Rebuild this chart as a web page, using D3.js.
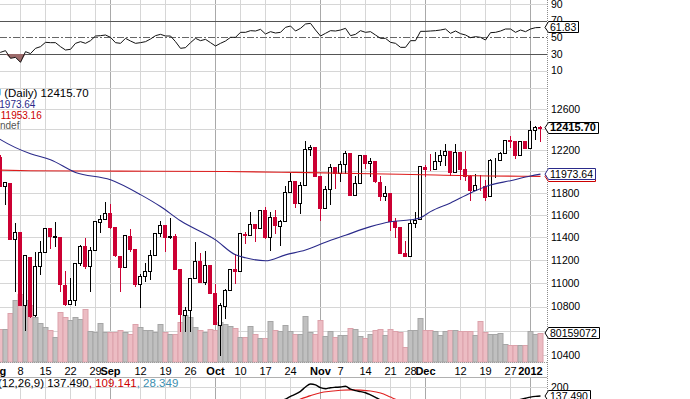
<!DOCTYPE html>
<html><head><meta charset="utf-8">
<script src="https://cdn.jsdelivr.net/npm/d3@7"></script>
<style>
body{margin:0;background:#fff;}
svg{display:block;font-family:"Liberation Sans",Arial,sans-serif;}
</style></head><body><div id="chart"></div>
<script>
// trading days, Aug 1 2011 .. Jan 5 2012
const dates = ("08-01 08-02 08-03 08-04 08-05 08-08 08-09 08-10 08-11 08-12 08-15 08-16 08-17 08-18 08-19 08-22 08-23 08-24 08-25 08-26 08-29 08-30 08-31 " +
  "09-01 09-02 09-06 09-07 09-08 09-09 09-12 09-13 09-14 09-15 09-16 09-19 09-20 09-21 09-22 09-23 09-26 09-27 09-28 09-29 09-30 " +
  "10-03 10-04 10-05 10-06 10-07 10-10 10-11 10-12 10-13 10-14 10-17 10-18 10-19 10-20 10-21 10-24 10-25 10-26 10-27 10-28 10-31 " +
  "11-01 11-02 11-03 11-04 11-07 11-08 11-09 11-10 11-11 11-14 11-15 11-16 11-17 11-18 11-21 11-22 11-23 11-25 11-28 11-29 11-30 " +
  "12-01 12-02 12-05 12-06 12-07 12-08 12-09 12-12 12-13 12-14 12-15 12-16 12-19 12-20 12-21 12-22 12-23 12-27 12-28 12-29 12-30 " +
  "01-03 01-04 01-05").split(" ");

// open, high, low, close
const ohlc = [
  [12144,12281,11925,12132],[12130,12150,11862,11867],[11866,11904,11700,11897],[11894,11894,11383,11384],[11383,11524,10933,11445],
  [11444,11444,10809,10810],[10810,11244,10604,11239],[11228,11228,10711,10720],[10729,11270,10719,11143],[11143,11362,11076,11270],
  [11269,11483,11269,11482],[11481,11481,11300,11406],[11405,11535,11320,11411],[11405,11405,10929,10991],[10986,11100,10815,10818],
  [10822,11045,10821,10855],[10854,11177,10813,11177],[11176,11327,11155,11321],[11319,11390,11127,11150],[11148,11310,10929,11285],
  [11287,11540,11287,11540],[11538,11600,11450,11560],[11560,11716,11560,11614],[11613,11698,11483,11494],[11492,11492,11231,11240],
  [11237,11237,10932,11139],[11140,11420,11140,11415],[11414,11474,11276,11296],[11294,11294,10976,10993],[10990,11077,10800,11062],
  [11061,11175,11017,11106],[11105,11290,11036,11247],[11246,11434,11246,11433],[11433,11545,11406,11510],[11508,11508,11275,11401],
  [11402,11568,11395,11408],[11407,11427,11120,11125],[11124,11124,10597,10734],[10733,10798,10597,10771],[10771,11045,10600,11044],
  [11045,11353,11045,11191],[11190,11260,11010,11011],[11011,11274,10995,11154],[11153,11153,10913,10913],[10912,10990,10655,10655],
  [10650,10827,10404,10809],[10806,10951,10700,10940],[10939,11124,10939,11124],[11123,11250,11000,11103],[11104,11433,11104,11433],
  [11432,11450,11347,11417],[11416,11628,11416,11519],[11518,11518,11370,11479],[11479,11644,11479,11644],[11644,11673,11390,11397],
  [11397,11630,11290,11578],[11577,11640,11440,11505],[11504,11554,11333,11542],[11543,11868,11543,11809],[11808,11981,11808,11913],
  [11912,11912,11667,11706],[11707,11900,11616,11869],[11870,12284,11870,12209],[12208,12251,12154,12232],[12231,12231,11955,11955],
  [11955,11955,11556,11658],[11659,11866,11659,11836],[11837,12072,11697,12045],[12044,12044,11843,11983],[11983,12094,11906,12069],
  [12068,12187,11985,12170],[12169,12169,11781,11781],[11782,11960,11778,11894],[11895,12158,11895,12154],[12153,12153,12027,12079],
  [12078,12125,11952,12096],[12095,12095,11900,11906],[11905,11960,11734,11771],[11771,11867,11735,11796],[11795,11795,11468,11548],
  [11547,11573,11398,11494],[11493,11493,11258,11258],[11257,11363,11231,11231],[11231,11555,11231,11524],[11523,11626,11488,11556],
  [11559,12046,11559,12046],[12045,12058,11952,12020],[12020,12162,12013,12019],[12019,12186,12019,12097],[12097,12199,12061,12150],
  [12149,12258,12061,12196],[12195,12195,11966,11997],[11997,12261,11997,12184],[12183,12183,11930,12021],[12021,12190,11918,11955],
  [11954,11965,11735,11824],[11825,11979,11825,11869],[11868,11968,11825,11866],[11866,11917,11735,11766],[11769,12112,11769,12103],
  [12103,12127,11944,12107],[12106,12179,12106,12169],[12169,12294,12169,12294],[12292,12331,12231,12291],[12290,12290,12128,12151],
  [12151,12288,12151,12288],[12287,12288,12217,12218],[12221,12479,12221,12397],[12392,12430,12308,12418],[12418,12430,12283,12415.70]
];

// volume, millions of shares
const volumes = [91,91,91,135,171,188,171,158,124,108, 97,88,69,138,124,116,124,119,146,86, 83,108,83,83,83,88,83,77,105,97,
  88,88,83,105,83,77,77,111,130,124, 97,88,83,91,88,111,105,100,94,69, 69,100,77,66,66,113,88,86,102,86,
  77,77,127,83,77,116,72,86,69,75, 75,94,91,72,66,77,88,91,75,91, 86,83,41,88,88,122,88,88,86,75,
  86,88,88,86,86,86,75,113,83,77, 77,80,50,47,47,47,47,86,77,80.159072];

// RSI(14)
const rsi = [36, 32.0,34.0,24.8,26.0,20.0,32.8,30.5,36.8,38.8,44.0, 43.6,43.6,38.8,34.8,35.6,42.8,44.8,42.8,46.0,51.6,
  52.0,52.8,50.0,43.6,42.8,48.8,45.6,42.8,43.6,44.8, 48.0,52.0,53.6,51.6,51.6,44.8,36.8,37.6,43.6,48.8,
  46.0,47.6,43.6,39.6,42.8,45.6,50.0,50.0,56.0,56.0, 58.0,57.6,59.6,54.0,56.8,55.2,56.0,62.0,63.6,57.6,
  60.8,66.0,66.8,58.8,51.6,54.8,58.0,57.6,58.8,60.8, 52.0,53.6,58.0,56.0,56.8,52.8,48.8,48.8,44.0,42.8,
  38.0,38.0,46.0,46.0,57.2,57.2,57.6,58.0,58.8,60.0, 54.8,57.6,54.4,52.8,49.6,50.8,50.0,46.8,55.6,56.0,
  57.6,60.0,60.0,56.0,58.8,56.8,60.0,61.6,61.83];

const ma50 = [["08-01",12330],["08-02",12300],["08-10",12165],["08-16",12109],["08-23",11990],["09-01",11921],["09-12",11784],
  ["09-16",11675],["09-22",11546],["10-03",11376],["10-07",11244],["10-11",11218],["10-17",11192],["10-21",11244],["10-27",11286],
  ["11-02",11355],["11-08",11417],["11-15",11494],["11-21",11537],["11-28",11555],["11-30",11573],["12-02",11629],["12-08",11708],
  ["12-14",11800],["12-20",11873],["12-27",11913],["01-03",11956],["01-05",11973.64]];
const ma200 = [["08-01",12012],["08-10",12006],["08-25",12003],["09-15",12001],["10-05",11998],["10-25",11990],["11-15",11978],
  ["12-05",11965],["12-20",11957],["01-05",11953.16]];

const macd = [["10-05",-20],["10-12",40],["10-17",80],["10-19",100],["10-21",116],["10-24",135],["10-25",150],["10-26",170],
  ["10-27",200],["10-28",221],["10-31",215],["11-01",195],["11-02",188],["11-03",195],["11-04",198],["11-07",200],["11-08",205],
  ["11-09",185],["11-10",175],["11-11",168],["11-14",160],["11-15",145],["11-16",128],["11-17",110],["11-18",95],["11-23",40],
  ["12-01",30],["12-08",60],["12-15",50],["12-22",80],["12-28",105],["12-30",122],["01-03",130],["01-04",135],["01-05",137.49]];
const signal = [["10-05",20],["10-18",60],["10-24",90],["10-26",116],["10-28",140],["11-01",160],["11-03",170],["11-07",177],
  ["11-09",180],["11-11",178],["11-15",172],["11-17",158],["11-21",130],["11-22",115],["11-23",105],["11-28",90],["12-01",75],
  ["12-08",55],["12-15",55],["12-22",65],["12-30",95],["01-05",109.141]];

const xTicks = [["08-01","Aug",1],["08-08","8"],["08-15","15"],["08-22","22"],["08-29","29"],["09-01","Sep",1],["09-12","12"],
  ["09-19","19"],["09-26","26"],["10-03","Oct",1],["10-10","10"],["10-17","17"],["10-24","24"],["11-01","Nov",1],["11-07","7"],
  ["11-14","14"],["11-21","21"],["11-28","28"],["12-01","Dec",1],["12-12","12"],["12-19","19"],["12-27","27"],["01-03","2012",1]];
const priceTicks = [10400,10600,10800,11000,11200,11400,11600,11800,12000,12200,12400,12600,12800];
const rsiTicks = [90,70,50,30,10];
const macdTicks = [200];

const W = 690, H = 399, right = 547;
const rsiBottom = 79, mainBottom = 363, macdTop = 377;

const svg = d3.select('#chart').append('svg').attr('width', W).attr('height', H);
svg.append('rect').attr('width', W).attr('height', H).attr('fill', '#fff');

const defs = svg.append('defs');
function clip(id, y0, y1) {
  defs.append('clipPath').attr('id', id).append('rect').attr('x', 0).attr('y', y0).attr('width', right).attr('height', y1 - y0);
}
clip('c-rsi', 0, rsiBottom);
clip('c-main', rsiBottom, mainBottom);
clip('c-macd', macdTop, H);

// scales
const x = d3.scalePoint().domain(dates).range([-4.5, 540.5]);
const y = d3.scaleLog().domain([10400, 12600]).range([355, 108.7]);
const yVol = d3.scaleLinear().domain([0, 80.159072]).range([362, 333]);
const yRsi = d3.scaleLinear().domain([0, 100]).range([79, -4.33]);
const yMacd = d3.scaleLinear().domain([0, 200]).range([415.8, 387]);
const crisp = v => Math.round(v) + 0.5;

// vertical grid
const grid = svg.append('g');
xTicks.forEach(t => {
  const gx = crisp(x(t[0]) - 0.5);
  [[0, mainBottom], [macdTop, H]].forEach(r => {
    grid.append('line').attr('x1', gx).attr('x2', gx).attr('y1', r[0]).attr('y2', r[1])
      .attr('stroke', t[2] ? '#a9a9a9' : '#d6d6d6').attr('stroke-width', 1);
  });
});

// horizontal grid, main panel
const main = svg.append('g').attr('clip-path', 'url(#c-main)');
priceTicks.forEach(v => {
  main.append('line').attr('x1', 0).attr('x2', right).attr('y1', crisp(y(v))).attr('y2', crisp(y(v)))
    .attr('stroke', '#d6d6d6');
});

// volume
main.selectAll('rect.vol').data(volumes).enter().append('rect').attr('class', 'vol')
  .attr('x', (d, i) => x(dates[i]) - 2.5)
  .attr('width', 5)
  .attr('y', d => crisp(yVol(d)))
  .attr('height', d => 362 - crisp(yVol(d)))
  .attr('fill', (d, i) => {
    const prev = i ? ohlc[i - 1][3] : ohlc[i][0];
    return ohlc[i][3] < prev ? '#ecbcc3' : '#c0c0c0';
  })
  .attr('stroke', (d, i) => {
    const prev = i ? ohlc[i - 1][3] : ohlc[i][0];
    return ohlc[i][3] < prev ? '#dca2ab' : '#a6a6a6';
  });

// candles
const red = '#cc0033';
const candle = main.selectAll('g.candle').data(ohlc).enter().append('g');
candle.append('line')
  .attr('x1', (d, i) => x(dates[i])).attr('x2', (d, i) => x(dates[i]))
  .attr('y1', d => Math.round(y(d[1]))).attr('y2', d => Math.round(y(d[2])) + 1)
  .attr('stroke', d => d[3] >= d[0] ? '#000' : red);
candle.append('rect')
  .attr('x', (d, i) => x(dates[i]) - 2)
  .attr('width', 3)
  .attr('y', d => crisp(y(Math.max(d[0], d[3]))))
  .attr('height', d => Math.max(0, crisp(y(Math.min(d[0], d[3]))) - crisp(y(Math.max(d[0], d[3])))))
  .attr('fill', d => d[3] >= d[0] ? '#fff' : red)
  .attr('stroke', d => d[3] >= d[0] ? '#000' : red);

// moving averages
const maLine = d3.line().x(d => x(d[0])).y(d => y(d[1])).curve(d3.curveMonotoneX);
main.append('path').attr('d', maLine(ma200)).attr('fill', 'none').attr('stroke', '#dd1c1c').attr('stroke-width', 1.1);
main.append('path').attr('d', maLine(ma50)).attr('fill', 'none').attr('stroke', '#2a2a8a').attr('stroke-width', 1.1);

// RSI panel
const rp = svg.append('g').attr('clip-path', 'url(#c-rsi)');
[90, 10].forEach(v => rp.append('line').attr('x1', 0).attr('x2', right)
  .attr('y1', crisp(yRsi(v))).attr('y2', crisp(yRsi(v))).attr('stroke', '#d6d6d6'));
[70, 30].forEach(v => rp.append('line').attr('x1', 0).attr('x2', right)
  .attr('y1', crisp(yRsi(v))).attr('y2', crisp(yRsi(v))).attr('stroke', '#555'));
rp.append('line').attr('x1', 0).attr('x2', right).attr('y1', crisp(yRsi(50))).attr('y2', crisp(yRsi(50)))
  .attr('stroke', '#666').attr('stroke-dasharray', '7,2,2,2');
rp.append('path')
  .attr('d', d3.area().x((d, i) => x(dates[i])).y0(yRsi(30)).y1(d => yRsi(Math.min(d, 30)))(rsi))
  .attr('fill', '#9c6a6a');
rp.append('path')
  .attr('d', d3.line().x((d, i) => x(dates[i])).y(d => yRsi(d))(rsi))
  .attr('fill', 'none').attr('stroke', '#111').attr('stroke-width', 1);

// MACD panel
const mp = svg.append('g').attr('clip-path', 'url(#c-macd)');
macdTicks.forEach(v => mp.append('line').attr('x1', 0).attr('x2', right)
  .attr('y1', crisp(yMacd(v))).attr('y2', crisp(yMacd(v))).attr('stroke', '#d6d6d6'));
const mLine = d3.line().x(d => x(d[0])).y(d => yMacd(d[1])).curve(d3.curveMonotoneX);
mp.append('path').attr('d', mLine(signal)).attr('fill', 'none').attr('stroke', '#e02020').attr('stroke-width', 1.1);
mp.append('path').attr('d', mLine(macd)).attr('fill', 'none').attr('stroke', '#000').attr('stroke-width', 1.4);

// panel borders and right axis
svg.append('line').attr('x1', 0).attr('x2', right).attr('y1', 362.5).attr('y2', 362.5)
  .attr('stroke', '#9a9a9a').attr('stroke-dasharray', '1,1');
svg.append('line').attr('x1', 0).attr('x2', right).attr('y1', macdTop + 0.5).attr('y2', macdTop + 0.5)
  .attr('stroke', '#b0b0b0');
svg.append('line').attr('x1', right + 0.5).attr('x2', right + 0.5).attr('y1', 0).attr('y2', H)
  .attr('stroke', '#8a8a8a').attr('stroke-dasharray', '1,1');

// x labels
svg.selectAll('text.xl').data(xTicks).enter().append('text')
  .attr('x', d => x(d[0])).attr('y', 375).attr('text-anchor', 'middle')
  .attr('font-size', 11).attr('font-weight', d => d[2] ? 'bold' : 'normal').attr('fill', '#000')
  .text(d => d[1]);

// tags on the right axis
const tagBoxes = [];
function tag(cy, txt, o) {
  const g = svg.append('g');
  const t = g.append('text').attr('x', 550).attr('y', cy + 3.8).attr('font-size', o.size || 10.5)
    .attr('font-weight', o.bold ? 'bold' : 'normal').attr('fill', o.color || '#000').text(txt);
  const w = t.node().getComputedTextLength();
  const l = 548.5, r = Math.round(550 + w + 2) + 0.5, top = Math.round(cy - 5) - 0.5, bot = top + 11;
  g.insert('path', 'text')
    .attr('d', `M545,${cy} L${l},${top} L${r},${top} L${r},${bot} L${l},${bot} Z`)
    .attr('fill', '#fff').attr('stroke', o.stroke || '#000').attr('stroke-width', 1);
  tagBoxes.push(cy);
}

// axis tick labels (skipped where a tag sits)
const tagYs = [y(12415.70), y(11973.64), yVol(80.159072)];
priceTicks.filter(v => y(v) > 92 && tagYs.every(t => Math.abs(t - y(v)) > 8)).forEach(v => {
  svg.append('text').attr('x', 551).attr('y', y(v) + 3.8).attr('font-size', 10.5).attr('fill', '#000').text(v);
});
rsiTicks.forEach(v => {
  svg.append('text').attr('x', 551).attr('y', yRsi(v) + 3.8).attr('font-size', 10.5).attr('fill', '#000').text(v);
});
macdTicks.forEach(v => {
  svg.append('text').attr('x', 551).attr('y', yMacd(v) + 3.8).attr('font-size', 10.5).attr('fill', '#000').text(v);
});

tag(y(11953.16), '11953.16', {stroke: '#cc0000', color: '#cc0000'});
tag(y(11973.64), '11973.64', {stroke: '#2a2a8a'});
tag(y(12415.70), '12415.70', {bold: true, size: 11});
tag(yVol(80.159072), '80159072', {});
tag(yRsi(61.83), '61.83', {});
tag(yMacd(137.49), '137.490', {});

// legends (left edge cut like the original)
function width(str, size) {
  const t = svg.append('text').attr('font-size', size).text(str);
  const w = t.node().getComputedTextLength();
  t.remove();
  return w;
}
svg.append('text').attr('x', 1 - width('$INDU ', 11.5)).attr('y', 97).attr('font-size', 11.5).attr('fill', '#000')
  .text('$INDU (Daily) 12415.70');
svg.append('text').attr('x', -width('MA(50) 1', 10)).attr('y', 107.5).attr('font-size', 10).attr('fill', '#2a2a8a')
  .text('MA(50) 11973.64');
svg.append('text').attr('x', -2 - width('MA(200) ', 10)).attr('y', 118.5).attr('font-size', 10).attr('fill', '#cc0000')
  .text('MA(200) 11953.16');
svg.append('text').attr('x', -width('Volume u', 10)).attr('y', 128.5).attr('font-size', 10).attr('fill', '#555')
  .text('Volume undef');

const ml = svg.append('text').attr('x', 44 - width('MACD(12,26,9)', 11.5)).attr('y', 386.5).attr('font-size', 11.5);
ml.append('tspan').attr('fill', '#000').text('MACD(12,26,9) 137.490');
ml.append('tspan').attr('fill', '#cc0000').text(', 109.141');
ml.append('tspan').attr('fill', '#3d8fb0').text(', 28.349');
</script>
</body></html>
